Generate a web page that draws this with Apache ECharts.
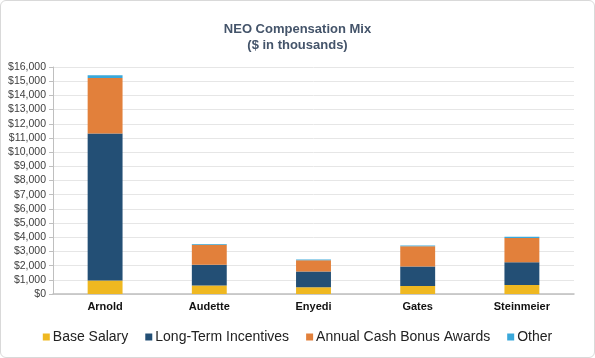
<!DOCTYPE html>
<html><head><meta charset="utf-8">
<script src="https://cdn.jsdelivr.net/npm/echarts@6/dist/echarts.min.js"></script>
<style>html,body{margin:0;padding:0;background:#fff}#c{width:595px;height:358px;box-sizing:border-box;border:1px solid #d9d9d9;border-radius:6px}</style>
</head><body><div id="c"></div>
<script>
const categories = ['Arnold', 'Audette', 'Enyedi', 'Gates', 'Steinmeier'];
const baseSalary = [960, 600, 470, 560, 630];
const longTermIncentives = [10360, 1470, 1120, 1380, 1610];
const annualCashBonus = [3900, 1400, 790, 1420, 1700];
const other = [190, 50, 50, 50, 100];
const yTicks = { min: 0, max: 16000, interval: 1000 };

const chart = echarts.init(document.getElementById('c'), null, { renderer: 'canvas' });
const mk = (name, data, color) => ({
  name, type: 'bar', stack: 'total', data, barWidth: '33.5%',
  itemStyle: { color }
});
chart.setOption({
  animation: false,
  textStyle: { fontFamily: 'Liberation Sans, Arial, sans-serif' },
  title: {
    text: 'NEO Compensation Mix\n($ in thousands)',
    left: 'center', top: 16,
    textStyle: { fontSize: 13, fontWeight: 'bold', color: '#44546A', lineHeight: 15.5, fontFamily: 'Liberation Sans, Arial, sans-serif' }
  },
  legend: {
    bottom: 8, left: 'center', itemWidth: 7, itemHeight: 7, itemGap: 17,
    icon: 'rect',
    textStyle: { fontSize: 14, color: '#222', padding: [0, 0, 0, -2] },
    data: ['Base Salary', 'Long-Term Incentives', 'Annual Cash Bonus Awards', 'Other']
  },
  grid: { left: 52, right: 20, top: 66, bottom: 63 },
  xAxis: {
    type: 'category', data: categories,
    axisLine: { lineStyle: { color: '#bfbfbf', width: 1.5 } },
    axisTick: { alignWithLabel: true, length: 4, lineStyle: { color: '#999' } },
    axisLabel: { fontSize: 11, fontWeight: 'bold', color: '#111', margin: 7 }
  },
  yAxis: {
    type: 'value', min: yTicks.min, max: yTicks.max, interval: yTicks.interval,
    axisLine: { show: true, lineStyle: { color: '#bfbfbf' } },
    axisTick: { show: true, length: 4, lineStyle: { color: '#bfbfbf' } },
    splitLine: { lineStyle: { color: '#e6e6e6' } },
    axisLabel: { fontSize: 10.5, color: '#404040', margin: 7,
      formatter: v => '$' + v.toLocaleString('en-US') }
  },
  series: [
    mk('Base Salary', baseSalary, '#EFB821'),
    mk('Long-Term Incentives', longTermIncentives, '#234F75'),
    mk('Annual Cash Bonus Awards', annualCashBonus, '#E2803B'),
    mk('Other', other, '#3AA8DA')
  ]
});
</script></body></html>
